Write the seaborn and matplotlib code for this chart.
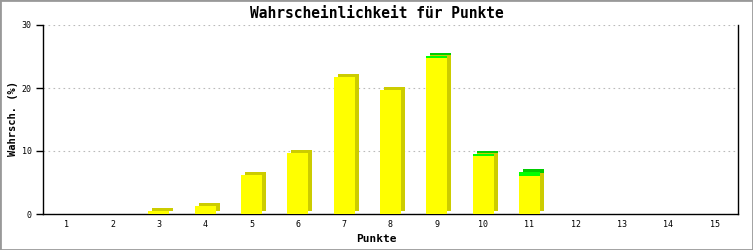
import matplotlib
matplotlib.use("Agg")
import matplotlib.pyplot as plt
import matplotlib.transforms as mtransforms
from matplotlib.patches import Rectangle
import seaborn as sns
import pandas as pd

points = [str(i) for i in range(1, 16)]
base_values = [0, 0, 0.5, 1.3, 6.2, 9.7, 21.8, 19.7, 24.8, 9.2, 6.0, 0, 0, 0, 0]
extra_values = [0, 0, 0, 0, 0, 0, 0, 0, 0.25, 0.4, 0.6, 0, 0, 0, 0]
y_ticks = [0, 10, 20, 30]

title = "Wahrscheinlichkeit für Punkte"
xlabel = "Punkte"
ylabel = "Wahrsch. (%)"

YELLOW = "#ffff00"
YELLOW_DARK = "#cccc00"
GREEN = "#00ff00"
GREEN_DARK = "#00cc00"

sns.set_theme(style="white")
plt.rcParams["font.family"] = ["DejaVu Sans Mono", "DejaVu Sans"]
plt.rcParams["text.color"] = "black"
plt.rcParams["axes.labelcolor"] = "black"
plt.rcParams["xtick.color"] = "black"
plt.rcParams["ytick.color"] = "black"

df = pd.DataFrame({"Punkte": points, "base": base_values,
                   "total": [b + e for b, e in zip(base_values, extra_values)]})

fig = plt.figure(figsize=(7.53, 2.5), dpi=100)
fig.patch.set_facecolor("white")
ax = fig.add_axes([43 / 753, 36 / 250, (738 - 43) / 753, (214 - 25) / 250])

sns.barplot(data=df, x="Punkte", y="total", order=points, color=GREEN,
            saturation=1, width=0.45, linewidth=0, ax=ax, zorder=3)
n_green = len(ax.patches)
sns.barplot(data=df, x="Punkte", y="base", order=points, color=YELLOW,
            saturation=1, width=0.45, linewidth=0, ax=ax, zorder=4)

green_patches = list(ax.patches[:n_green])
yellow_patches = list(ax.patches[n_green:])

shift = mtransforms.offset_copy(ax.transData, fig=fig, x=4, y=3, units="dots")
for gp, yp in zip(green_patches, yellow_patches):
    x0 = yp.get_x()
    w = yp.get_width()
    hy = yp.get_height()
    ht = gp.get_height()
    if hy > 0:
        ax.add_patch(Rectangle((x0, 0), w, hy, facecolor=YELLOW_DARK,
                               linewidth=0, transform=shift, zorder=1))
    if ht - hy > 0:
        ax.add_patch(Rectangle((x0, hy), w, ht - hy, facecolor=GREEN_DARK,
                               linewidth=0, transform=shift, zorder=2))

ax.set_xlim(-0.5, 14.5)
ax.set_ylim(0, 30)
ax.set_yticks(y_ticks)
ax.set_yticklabels([str(t) for t in y_ticks])
ax.yaxis.grid(True, linestyle=(0, (1.5, 3)), color="#bbbbbb", linewidth=0.8)
ax.set_axisbelow(True)

for side in ["left", "bottom", "right"]:
    ax.spines[side].set_visible(True)
    ax.spines[side].set_color("black")
    ax.spines[side].set_linewidth(1)
ax.spines["top"].set_visible(False)

ax.tick_params(axis="y", which="both", left=True, length=5, width=1,
               color="black", labelsize=6, pad=3)
ax.tick_params(axis="x", which="both", bottom=False, length=0,
               labelsize=6, pad=4)

ax.set_xlabel("")
ax.set_ylabel("")
fig.text(0.5, 1 - 239 / 250, xlabel, ha="center", va="center",
         fontsize=8, fontweight="bold")
fig.text(13 / 753, 1 - 118 / 250, ylabel, ha="center", va="center",
         rotation=90, fontsize=7.5, fontweight="bold")

fig.text(0.5, 1 - 13 / 250, title, ha="center", va="center",
         fontsize=10.5, fontweight="bold")

fig.patches.append(Rectangle((0, 0), 1, 1, transform=fig.transFigure,
                             fill=False, edgecolor="#999999", linewidth=2))

fig.savefig("out.png", dpi=100)
